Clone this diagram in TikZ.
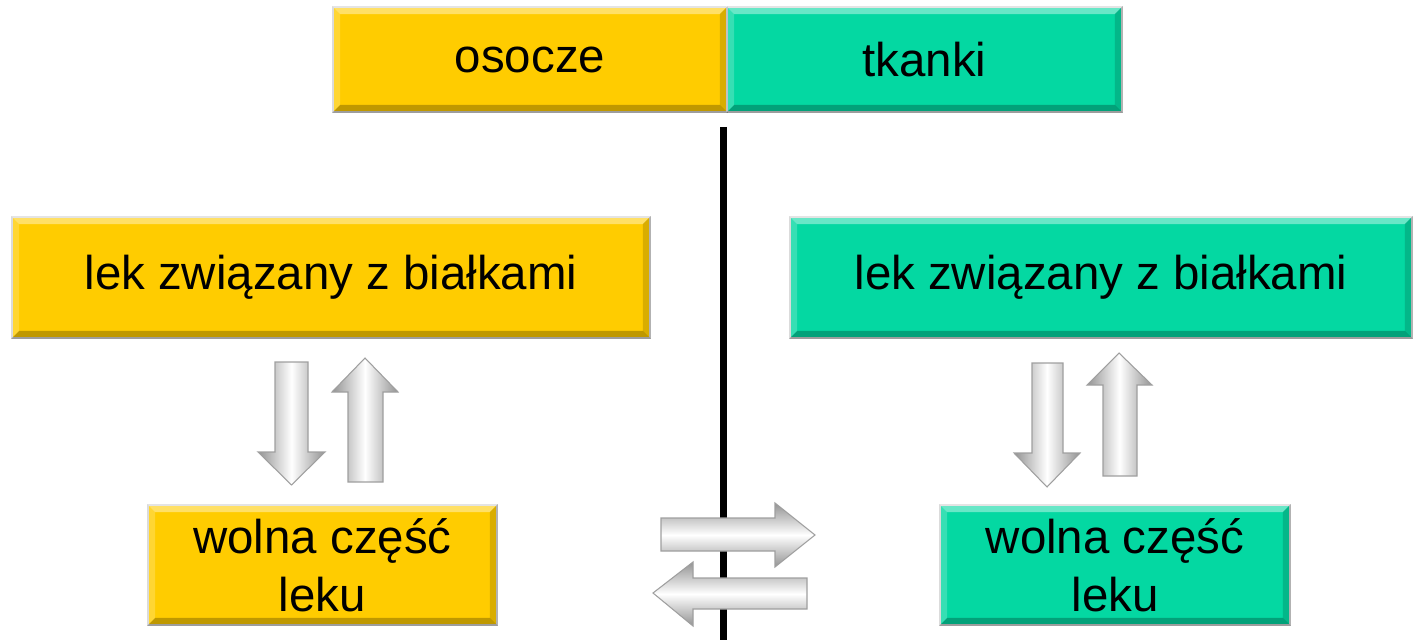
\documentclass[tikz,border=0pt]{standalone}
\usepackage{fontspec}
\setmainfont{Liberation Sans}

\definecolor{plasmayellow}{RGB}{255,204,0}
\definecolor{tissuegreen}{RGB}{4,216,162}

\tikzset{
    box/.style={draw=gray!35, line width=1pt, inner sep=0pt, align=center,
        font=\fontsize{27}{33}\selectfont},
    vshaft/.style={draw=gray!75, line width=0.6pt, left color=gray!85, right color=gray!85, middle color=white},
    hshaft/.style={draw=gray!75, line width=0.6pt, top color=gray!85, bottom color=gray!85, middle color=white},
}

\begin{document}
\begin{tikzpicture}[x=0.02cm, y=0.02cm]
    \useasboundingbox (0,0) rectangle (1414,640);

    % Define the positions of the nodes
    \node[box, fill=plasmayellow, minimum width=7.88cm, minimum height=2.1cm] (osocze) at (530,580.5) {osocze};
    \node[box, fill=tissuegreen, minimum width=7.9cm, minimum height=2.1cm] (tkanki) at (924.5,580.5) {tkanki};

    \node[box, fill=plasmayellow, minimum width=12.76cm, minimum height=2.42cm] (lekL) at (331,362.5) {lek związany z białkami};
    \node[box, fill=tissuegreen, minimum width=12.44cm, minimum height=2.42cm] (lekR) at (1101,362.5) {lek związany z białkami};

    \node[box, fill=plasmayellow, minimum width=6.98cm, minimum height=2.4cm] (wolnaL) at (322.5,75) {wolna część\\leku};
    \node[box, fill=tissuegreen, minimum width=7cm, minimum height=2.4cm] (wolnaR) at (1115,75) {wolna część\\leku};

    % bevelled edges of the boxes
    \foreach \n in {osocze,tkanki,lekL,lekR,wolnaL,wolnaR} {
        \fill[white, opacity=.4] (\n.north west) -- (\n.north east) -- ([shift={(-8,-8)}]\n.north east) -- ([shift={(8,-8)}]\n.north west) -- cycle;
        \fill[white, opacity=.2] (\n.north west) -- ([shift={(8,-8)}]\n.north west) -- ([shift={(8,8)}]\n.south west) -- (\n.south west) -- cycle;
        \fill[black, opacity=.25] (\n.south west) -- ([shift={(8,8)}]\n.south west) -- ([shift={(-8,8)}]\n.south east) -- (\n.south east) -- cycle;
        \fill[black, opacity=.15] (\n.south east) -- ([shift={(-8,8)}]\n.south east) -- ([shift={(-8,-8)}]\n.north east) -- (\n.north east) -- cycle;
    }

    % Draw the border between plasma and tissue
    \coordinate (divtop) at (723,513);
    \coordinate (divbot) at (723,0);
    \draw[line width=0.14cm] (divtop) -- (divbot);

    % binding arrows, plasma side
    \shade[vshaft] (275,278) -- (308,278) -- (308,188) -- (325,188) -- (291.5,155) -- (258,188) -- (275,188) -- cycle;
    \shade[vshaft] (365,282) -- (398,248) -- (383,248) -- (383,158) -- (348,158) -- (348,248) -- (332,248) -- cycle;

    % binding arrows, tissue side
    \shade[vshaft] (1032,277) -- (1063,277) -- (1063,187) -- (1080,187) -- (1047,153) -- (1014,187) -- (1032,187) -- cycle;
    \shade[vshaft] (1119,287) -- (1152,255) -- (1137,255) -- (1137,164) -- (1103,164) -- (1103,255) -- (1087,255) -- cycle;

    % exchange of the free drug across the border
    \shade[hshaft] (661,122) -- (775,122) -- (775,137) -- (815,105) -- (775,73) -- (775,89) -- (661,89) -- cycle;
    \shade[hshaft] (653,47) -- (693,78) -- (693,62) -- (807,62) -- (807,31) -- (693,31) -- (693,14) -- cycle;
\end{tikzpicture}
\end{document}
